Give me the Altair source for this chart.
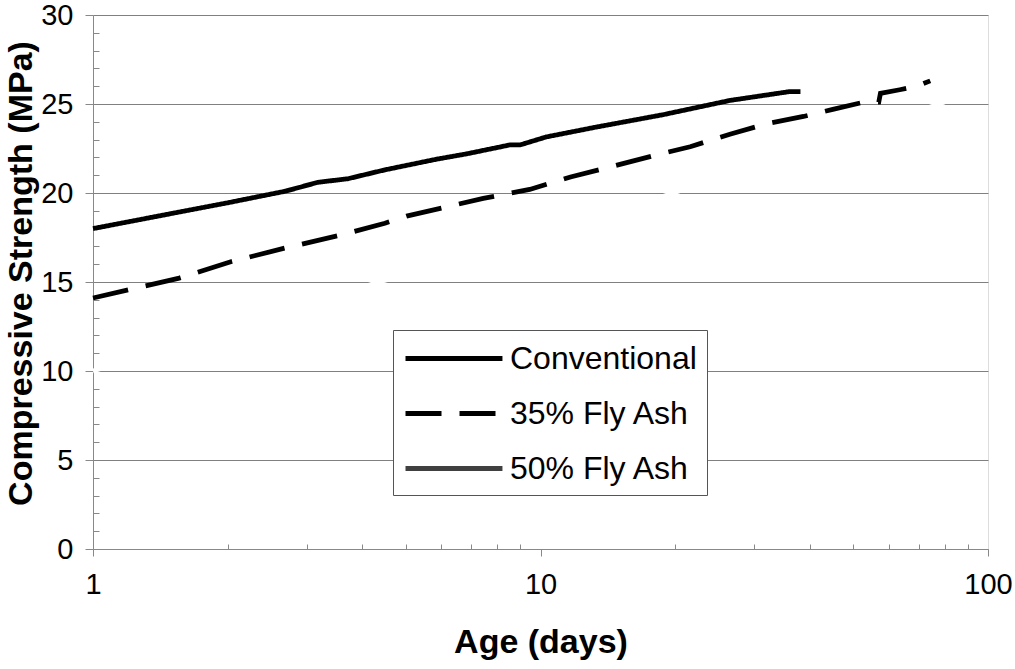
import altair as alt
import pandas as pd

# ---------------- data ----------------
series_names = ["Conventional", "35% Fly Ash", "50% Fly Ash"]

conv_age = [1, 1.5, 2, 2.69, 3.18, 3.71, 4.49, 5.86, 6.84, 8.54, 9.0, 10.3, 13.3, 18.8, 26.5, 36.1, 38.1]
conv_str = [18.0, 18.85, 19.45, 20.1, 20.6, 20.8, 21.3, 21.9, 22.2, 22.7, 22.7, 23.15, 23.7, 24.4, 25.2, 25.7, 25.7]

fa35_age = [1, 1.55, 2.04, 2.68, 3.53, 4.49, 5.02, 7.45, 9.46, 11.67, 14.5, 17.9, 21.6, 26.5, 32.1, 38.7,
            45, 52.7, 57.0, 57.5, 63.5, 69.4, 74.3]
fa35_str = [14.1, 15.2, 16.15, 16.9, 17.6, 18.3, 18.7, 19.7, 20.2, 20.9, 21.5, 22.1, 22.6, 23.3, 23.9, 24.3,
            24.7, 25.1, 25.1, 25.6, 25.8, 26.0, 26.3]

# 50% Fly Ash series is drawn in white in the original (only visible where it cuts gridlines)
fa50_age = [1, 2, 4.36, 10, 19.8, 40, 80]
fa50_str = [10.0, 12.4, 15.0, 17.5, 20.0, 22.6, 25.1]

x_major = [1, 10, 100]
x_minor = [2, 3, 4, 5, 6, 7, 8, 9, 20, 30, 40, 50, 60, 70, 80, 90]
y_major = [0, 5, 10, 15, 20, 25, 30]
y_minor = [v for v in range(1, 30) if v % 5 != 0]

line_colors = ["black", "black", "#404040"]
line_dashes = [[1, 0], [36, 18], [1, 0]]

# ---------------- tables ----------------
df_main = pd.DataFrame({
    "age": conv_age + fa35_age,
    "strength": conv_str + fa35_str,
    "series": [series_names[0]] * len(conv_age) + [series_names[1]] * len(fa35_age),
})
df_white = pd.DataFrame({"age": fa50_age, "strength": fa50_str})

W, H = 895, 534
FONT = "Liberation Sans"

x_scale = alt.Scale(type="log", domain=[1, 100], nice=False)
y_scale = alt.Scale(domain=[0, 30], nice=False, zero=True)

white = alt.Chart(df_white).mark_line(strokeWidth=4.5, color="white").encode(
    x=alt.X("age:Q", scale=x_scale,
            axis=alt.Axis(orient="bottom", values=x_major, format="d", tickSize=7,
                          labelFontSize=29, labelPadding=14, grid=False,
                          labelOverlap=False, labelFlush=False,
                          title="Age (days)", titleFontSize=34, titleY=103,
                          titleBaseline="alphabetic", titleAnchor="middle")),
    y=alt.Y("strength:Q", scale=y_scale,
            axis=alt.Axis(orient="left", values=y_major, tickSize=8, labelFontSize=29,
                          labelPadding=12, grid=True, gridColor="#808080", gridWidth=1,
                          labelOverlap=False,
                          title="Compressive Strength (MPa)", titleFontSize=34,
                          titleAngle=270, titleX=-62, titleY=258,
                          titleBaseline="alphabetic", titleAlign="center")),
)

leg = alt.Legend(title=None, orient="none", legendX=300, legendY=315,
                 symbolType="M-1,0H5.06", symbolSize=1024, symbolStrokeWidth=5,
                 labelFontSize=32, labelFont=FONT, labelColor="black", labelLimit=400,
                 labelOffset=70, rowPadding=20, padding=10,
                 fillColor="white", strokeColor="#555555")

lines = alt.Chart(df_main).mark_line(strokeWidth=4.8).encode(
    x=alt.X("age:Q", scale=x_scale,
            axis=alt.Axis(orient="top", offset=-H, values=x_minor, labels=False, tickSize=5,
                          domain=False, grid=False, title=None)),
    y=alt.Y("strength:Q", scale=y_scale,
            axis=alt.Axis(orient="right", offset=-W, values=y_minor, labels=False, tickSize=6,
                          domain=False, grid=False, title=None)),
    color=alt.Color("series:N", scale=alt.Scale(domain=series_names, range=line_colors), legend=leg),
    strokeDash=alt.StrokeDash("series:N", scale=alt.Scale(domain=series_names, range=line_dashes), legend=leg),
    order=alt.Order("age:Q"),
)

chart = alt.layer(white, lines).resolve_axis(x="independent", y="independent").properties(
    width=W, height=H,
    autosize=alt.AutoSizeParams(type="none"),
    padding={"left": 93, "top": 15, "right": 27, "bottom": 120},
).configure_view(stroke="#333333", strokeWidth=1).configure_axis(
    domainColor="black", tickColor="black", labelColor="black", titleColor="black",
    labelFont=FONT, titleFont=FONT, titleFontWeight="bold", domainWidth=1, tickWidth=1,
).configure(background="white")

chart.save("out.html", embed_options={"renderer": "svg", "actions": False})
